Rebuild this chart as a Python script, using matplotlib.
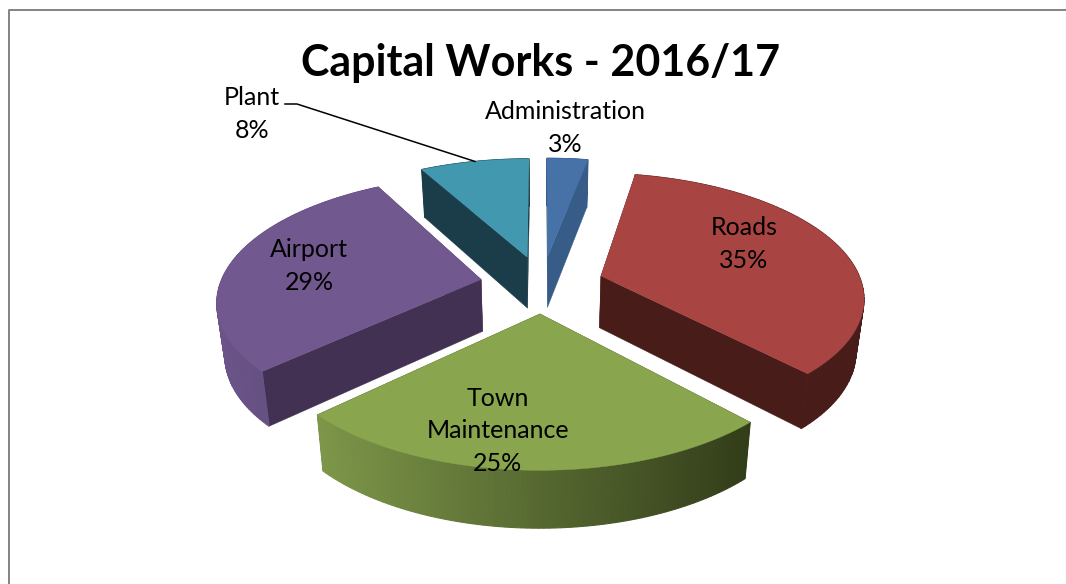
import numpy as np
import matplotlib
matplotlib.use('Agg')
import matplotlib.pyplot as plt

categories = ['Administration', 'Roads', 'Town\nMaintenance', 'Airport', 'Plant']
values = [3, 35, 25, 29, 8]
top_colors = ['#4672A8', '#A84543', '#89A54E', '#71588F', '#4198AF']
wall_colors = ['#365C87', '#471C19', '#38421C', '#433153', '#1B3D49']
arc_left = ['#365C87', '#4A1D1A', '#7D9649', '#6A5488', '#1B3D49']
arc_right = ['#365C87', '#471C19', '#323D19', '#5C4874', '#1B3D49']
draw_order = [4, 0, 3, 1, 2]

# pie geometry in pixels
cx, cy = 542, 284
radius = 261
explode = 62
squash = 0.465
persp = 0.0006
depth = 52
taper = 0.975  # sides lean inward going down


def project(x, y, z=0):
    p = 1 / (1 + persp * y)
    s = 1 - (1 - taper) * z / depth
    return cx + x * p * s, cy - y * squash * p + z * p ** 0.5


W, H = 1066, 584
fig = plt.figure(figsize=(W / 100, H / 100), dpi=100)
ax = fig.add_axes([0, 0, 1, 1])
ax.set_xlim(0, W)
ax.set_ylim(H, 0)
ax.axis('off')

# chart frame, only left and top are inside the crop
ax.plot([9, 9, W], [H, 10, 10], color='#868686', lw=1.44, solid_capstyle='butt')

edges = np.cumsum([0] + values) / sum(values) * 2 * np.pi
plant_top = None

for i in draw_order:
    a0, a1 = edges[i], edges[i + 1]
    mid = (a0 + a1) / 2
    ox, oy = explode * np.sin(mid), explode * np.cos(mid)
    t = np.linspace(a0, a1, 90)
    xs = ox + radius * np.sin(t)
    ys = oy + radius * np.cos(t)
    order = 2 + draw_order.index(i)

    # straight cut walls
    for a in (a0, a1):
        ex, ey = ox + radius * np.sin(a), oy + radius * np.cos(a)
        px, py = project(np.array([ox, ex, ex, ox]), np.array([oy, ey, ey, oy]),
                         np.array([0, 0, depth, depth]))
        ax.fill(px, py, color=wall_colors[i], lw=0.3, zorder=order)

    # outer wall, shaded from left to right
    tx, ty = project(xs, ys)
    bx, by = project(xs, ys, depth)
    left, right = tx.min(), tx.max()
    c0 = np.array(matplotlib.colors.to_rgb(arc_left[i]))
    c1 = np.array(matplotlib.colors.to_rgb(arc_right[i]))
    for k in range(len(t) - 1):
        f = ((tx[k] + tx[k + 1]) / 2 - left) / (right - left)
        col = c0 + (c1 - c0) * f
        ax.fill([tx[k], tx[k + 1], bx[k + 1], bx[k]], [ty[k], ty[k + 1], by[k + 1], by[k]],
                color=col, lw=0.8, zorder=order)

    # top face
    ax0, ay0 = project(ox, oy)
    ax.fill(np.r_[ax0, tx], np.r_[ay0, ty], color=top_colors[i], lw=0.3, zorder=order + 0.5)
    if categories[i] == 'Plant':
        plant_top = (tx, ty)

plt.rcParams['font.family'] = ['Lato', 'DejaVu Sans']

ax.text(541, 63, 'Capital Works - 2016/17', fontsize=31, fontweight='bold',
        ha='center', va='center', zorder=20)

label_xy = [(565, 128), (744, 244), (498, 431), (309, 266), (252, 114)]
for i, name in enumerate(categories):
    ax.text(label_xy[i][0], label_xy[i][1], f'{name}\n{values[i]}%', fontsize=18,
            ha='center', va='center', linespacing=1.5, color='black', zorder=20)

# leader line from the Plant label to its slice
k = np.argmin(np.abs(plant_top[0] - 475))
ax.plot([285, 297, plant_top[0][k]], [104, 104, plant_top[1][k]], color='black', lw=1.1, zorder=20)

fig.savefig('out.png', dpi=100, facecolor='white')
